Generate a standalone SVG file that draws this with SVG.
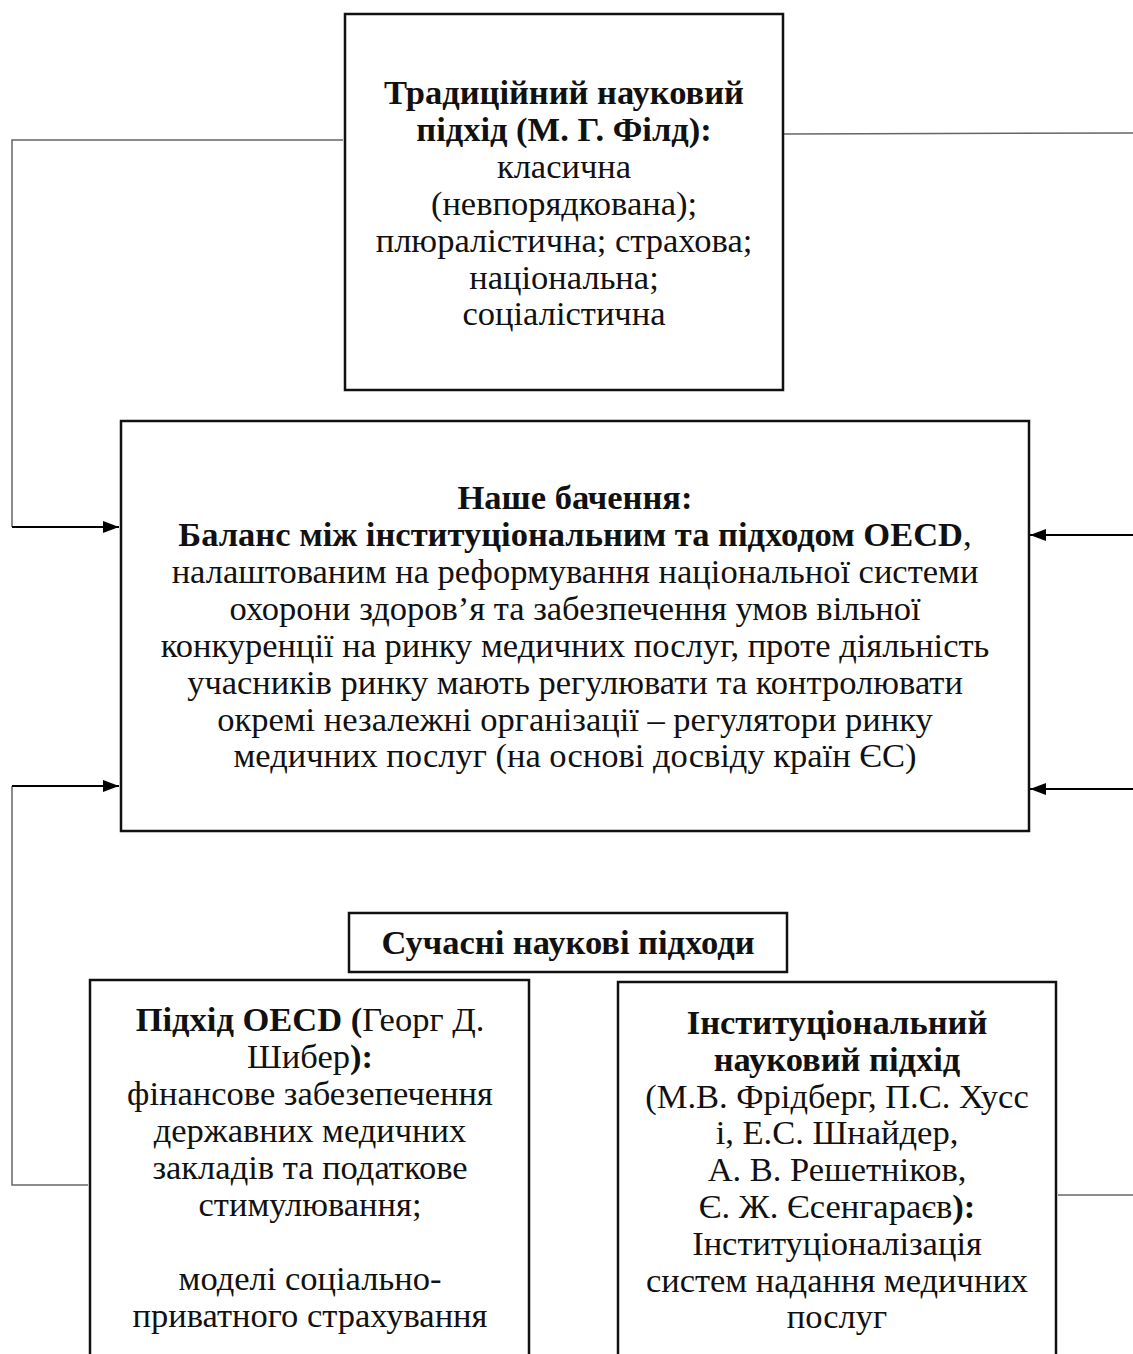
<svg xmlns="http://www.w3.org/2000/svg" width="1133" height="1354" viewBox="0 0 1133 1354">
  <style>
    .box { fill: #fff; stroke: #111; stroke-width: 2.5; }
    .t { font-family: "Liberation Serif", "Times New Roman", serif; font-size: 34.5px; fill: #111; text-anchor: middle; }
    .b { font-weight: bold; }
    .link { fill: none; stroke: #666; stroke-width: 1.5; }
    .arrow { fill: none; stroke: #000; stroke-width: 2; marker-end: url(#head); }
  </style>
  <defs>
    <marker id="head" viewBox="0 0 16 12" refX="16" refY="6" markerWidth="16" markerHeight="12" markerUnits="userSpaceOnUse" orient="auto">
      <path d="M0,0 L16,6 L0,12 z" fill="#000"/>
    </marker>
  </defs>
  <rect width="1133" height="1354" fill="#fff"/>

  <!-- connectors -->
  <g id="connectors">
    <polyline class="link" points="343,140 12,140 12,527"/>
    <polyline class="arrow" points="12,527 119,527"/>
    <polyline class="link" points="784,134 1133,133"/>
    <polyline class="arrow" points="1133,535 1030,535"/>
    <polyline class="arrow" points="1133,789 1030,789"/>
    <polyline class="link" points="88,1185 12,1185 12,786"/>
    <polyline class="arrow" points="12,786 119,786"/>
    <polyline class="link" points="1058,1195 1133,1195"/>
  </g>

  <!-- traditional approach -->
  <g id="traditional">
    <rect class="box" x="345" y="14" width="438" height="376"/>
    <text class="t b" x="564" y="104">Традиційний науковий</text>
    <text class="t b" x="564" y="141">підхід (М. Г. Філд):</text>
    <text class="t" x="564" y="178">класична</text>
    <text class="t" x="564" y="215">(невпорядкована);</text>
    <text class="t" x="564" y="252">плюралістична; страхова;</text>
    <text class="t" x="564" y="289">національна;</text>
    <text class="t" x="564" y="325">соціалістична</text>
  </g>

  <!-- our vision -->
  <g id="vision">
    <rect class="box" x="121" y="421" width="908" height="410"/>
    <text class="t b" x="575" y="509">Наше бачення:</text>
    <text class="t" x="575" y="546"><tspan class="b">Баланс між інституціональним та підходом OECD</tspan>,</text>
    <text class="t" x="575" y="583">налаштованим на реформування національної системи</text>
    <text class="t" x="575" y="620">охорони здоров’я та забезпечення умов вільної</text>
    <text class="t" x="575" y="657">конкуренції на ринку медичних послуг, проте діяльність</text>
    <text class="t" x="575" y="694">учасників ринку мають регулювати та контролювати</text>
    <text class="t" x="575" y="731">окремі незалежні організації – регулятори ринку</text>
    <text class="t" x="575" y="767">медичних послуг (на основі досвіду країн ЄС)</text>
  </g>

  <!-- modern approaches heading -->
  <g id="modern">
    <rect class="box" x="349" y="913" width="438" height="59"/>
    <text class="t b" x="568" y="954">Сучасні наукові підходи</text>
  </g>

  <!-- OECD approach -->
  <g id="oecd">
    <rect class="box" x="90" y="980" width="439" height="390"/>
    <text class="t" x="310" y="1031"><tspan class="b">Підхід OECD (</tspan>Георг Д.</text>
    <text class="t" x="310" y="1068"><tspan>Шибер</tspan><tspan class="b">):</tspan></text>
    <text class="t" x="310" y="1105">фінансове забезепечення</text>
    <text class="t" x="310" y="1142">державних медичних</text>
    <text class="t" x="310" y="1179">закладів та податкове</text>
    <text class="t" x="310" y="1216">стимулювання;</text>
    <text class="t" x="310" y="1290">моделі соціально-</text>
    <text class="t" x="310" y="1327">приватного страхування</text>
  </g>

  <!-- institutional approach -->
  <g id="institutional">
    <rect class="box" x="618" y="982" width="438" height="390"/>
    <text class="t b" x="837" y="1034">Інституціональний</text>
    <text class="t b" x="837" y="1071">науковий підхід</text>
    <text class="t" x="837" y="1108">(М.В. Фрідберг, П.С. Хусс</text>
    <text class="t" x="837" y="1144">і, Е.С. Шнайдер,</text>
    <text class="t" x="837" y="1181">А. В. Решетніков,</text>
    <text class="t" x="837" y="1218">Є. Ж. Єсенгараєв<tspan class="b">):</tspan></text>
    <text class="t" x="837" y="1255">Інституціоналізація</text>
    <text class="t" x="837" y="1292">систем надання медичних</text>
    <text class="t" x="837" y="1328">послуг</text>
  </g>
</svg>
